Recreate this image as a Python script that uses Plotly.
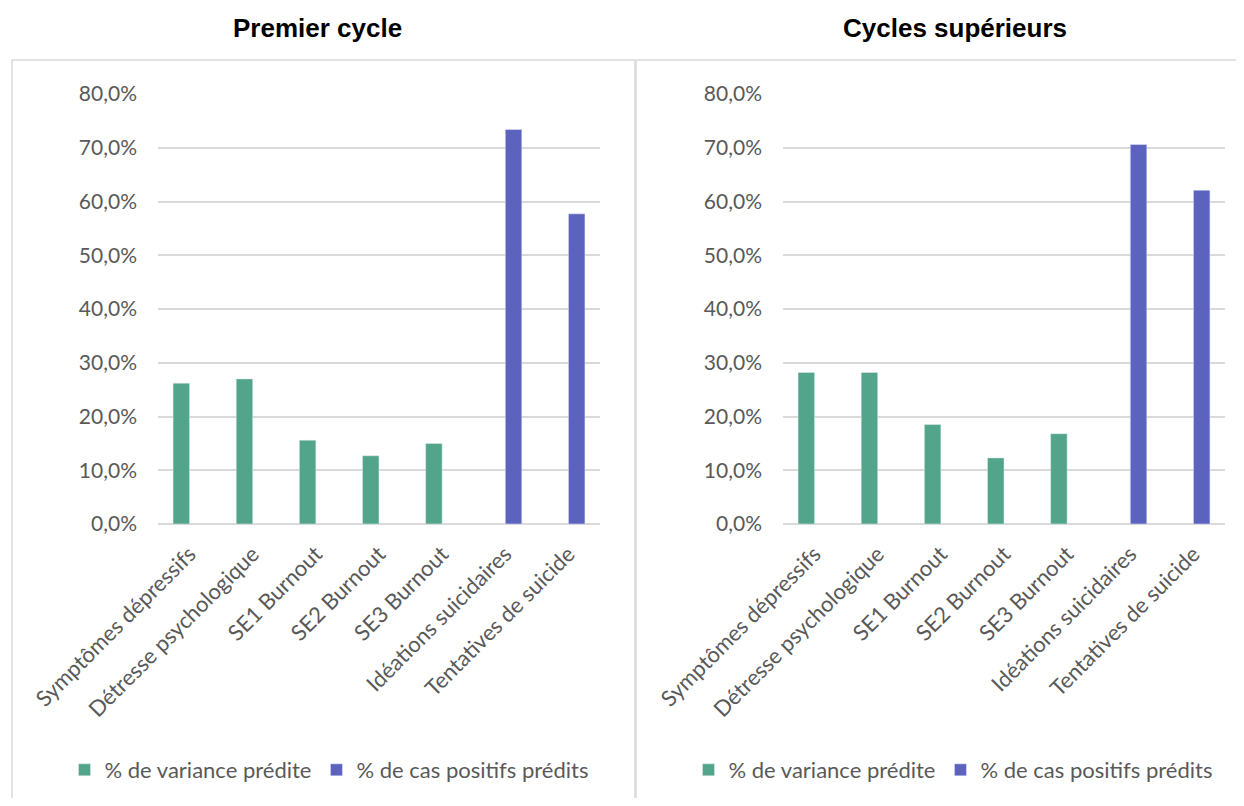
import plotly.graph_objects as go

# Categories (x axis) shared by both panels
categories = [
    "Symptômes dépressifs",
    "Détresse psychologique",
    "SE1 Burnout",
    "SE2 Burnout",
    "SE3 Burnout",
    "Idéations suicidaires",
    "Tentatives de suicide",
]

# Premier cycle
left_variance = [0.262, 0.270, 0.156, 0.127, 0.150, None, None]
left_positives = [None, None, None, None, None, 0.734, 0.577]

# Cycles supérieurs
right_variance = [0.282, 0.282, 0.185, 0.123, 0.168, None, None]
right_positives = [None, None, None, None, None, 0.706, 0.621]

panel_titles = ["Premier cycle", "Cycles supérieurs"]
series_names = ["% de variance prédite", "% de cas positifs prédits"]
y_ticks = [0, 0.1, 0.2, 0.3, 0.4, 0.5, 0.6, 0.7, 0.8]

GREEN = "#52A58A"
PURPLE = "#5B63BE"
GRID = "#D9D9D9"
TEXT = "#595959"
FONT = "Lato, Carlito, Calibri, sans-serif"

# the page body has an 8px margin, so the figure is a bit smaller than the window
OFF = 8
W, H = 1244 - 2 * OFF, 806 - 2 * OFF


def px(x):
    return (x - OFF) / W


def py(y):
    return 1 - (y - OFF) / H


fig = go.Figure()

# Left panel traces
fig.add_trace(go.Bar(x=categories, y=left_variance, name=series_names[0],
                     marker_color=GREEN, xaxis="x", yaxis="y", legend="legend"))
fig.add_trace(go.Bar(x=categories, y=left_positives, name=series_names[1],
                     marker_color=PURPLE, xaxis="x", yaxis="y", legend="legend"))
# Right panel traces
fig.add_trace(go.Bar(x=categories, y=right_variance, name=series_names[0],
                     marker_color=GREEN, xaxis="x2", yaxis="y2", legend="legend2"))
fig.add_trace(go.Bar(x=categories, y=right_positives, name=series_names[1],
                     marker_color=PURPLE, xaxis="x2", yaxis="y2", legend="legend2"))

ydom = [py(524), py(94)]
xaxis_common = dict(
    showline=False, showgrid=False, ticks="", tickangle=-45, automargin=False,
    ticklabelstandoff=12,
    tickfont=dict(family=FONT, size=22, color=TEXT), fixedrange=True,
)
yaxis_common = dict(
    range=[0, 0.8], tickvals=y_ticks, tickformat=".1%", automargin=False,
    showgrid=True, gridcolor=GRID, gridwidth=1.5,
    zeroline=True, zerolinecolor=GRID, zerolinewidth=1.5,
    showline=False, ticks="", ticklen=0, ticklabelstandoff=20,
    tickfont=dict(family=FONT, size=21, color=TEXT), fixedrange=True,
)

legend_common = dict(
    orientation="h", xanchor="center", yanchor="middle", y=py(770),
    font=dict(family=FONT, size=22, color=TEXT), itemwidth=30,
    bgcolor="rgba(0,0,0,0)",
)

fig.update_layout(
    width=W, height=H, autosize=False,
    margin=dict(l=0, r=0, t=0, b=0, pad=0, autoexpand=False),
    paper_bgcolor="#ffffff", plot_bgcolor="#ffffff",
    separators=", ",
    barmode="group", bargap=0.477, bargroupgap=0,
    xaxis=dict(domain=[px(158), px(600)], anchor="y", **xaxis_common),
    yaxis=dict(domain=ydom, anchor="x", **yaxis_common),
    xaxis2=dict(domain=[px(783), px(1225)], anchor="y2", **xaxis_common),
    yaxis2=dict(domain=ydom, anchor="x2", **yaxis_common),
    legend=dict(x=px(329), **legend_common),
    legend2=dict(x=px(953), **legend_common),
    showlegend=True,
)

# Panel frames
for x0, x1 in [(12, 635), (636, 1262)]:
    fig.add_shape(type="rect", xref="paper", yref="paper",
                  x0=px(x0), x1=px(x1), y0=-0.02, y1=py(60),
                  line=dict(color=GRID, width=1.5), fillcolor="rgba(0,0,0,0)",
                  layer="below")

# Panel titles
for title, cx in zip(panel_titles, [317, 955]):
    fig.add_annotation(text="<b>" + title + "</b>", xref="paper", yref="paper",
                       x=px(cx), y=py(28), showarrow=False,
                       xanchor="center", yanchor="middle",
                       font=dict(family="Liberation Sans, Arial, sans-serif",
                                 size=26, color="#000000"))

fig.write_html("out.html")
